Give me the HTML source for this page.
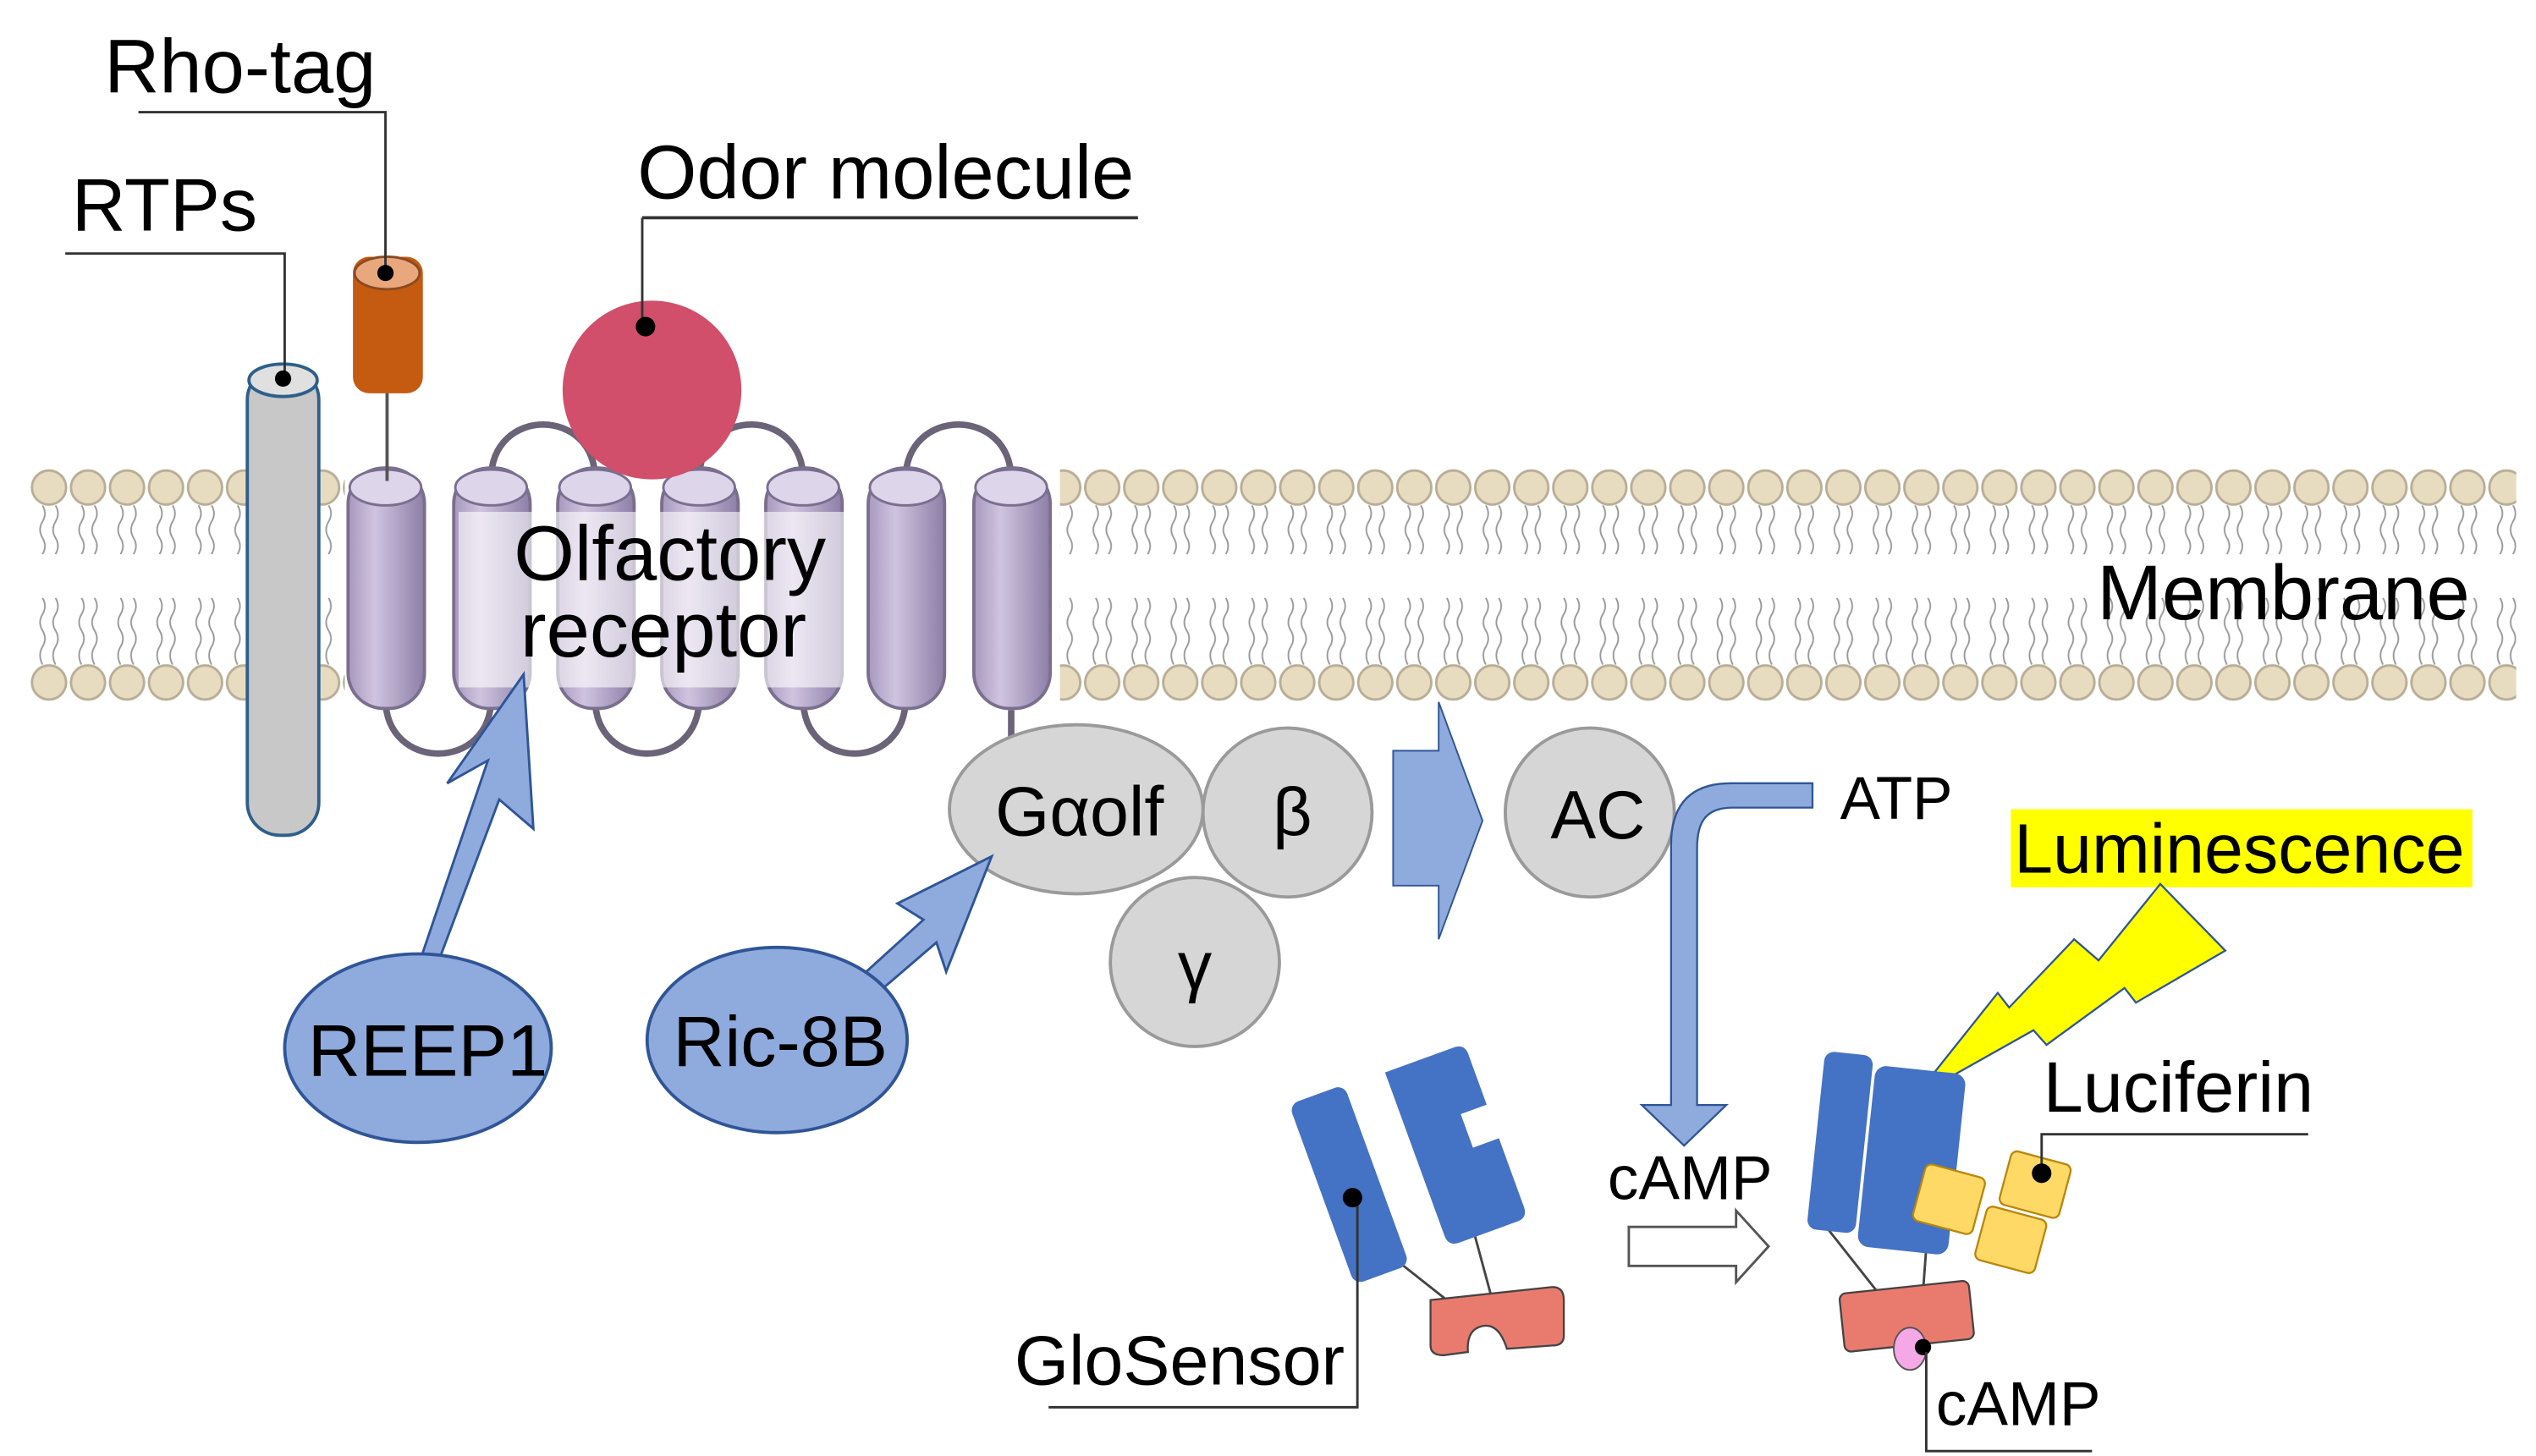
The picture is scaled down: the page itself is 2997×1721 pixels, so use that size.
<!DOCTYPE html>
<html><head><meta charset="utf-8"><style>
html,body{margin:0;padding:0;background:#fff}
svg{display:block}
text{font-family:"Liberation Sans",sans-serif;fill:#000}
</style></head><body>
<svg width="2997" height="1721" viewBox="0 0 1560 896" xmlns="http://www.w3.org/2000/svg">
<defs>
<pattern id="lip" x="18" y="288" width="24" height="144" patternUnits="userSpaceOnUse">
<circle cx="12" cy="12" r="10.5" fill="#e8dcc0" stroke="#b8ad96" stroke-width="1.5"/>
<circle cx="12" cy="132" r="10.5" fill="#e8dcc0" stroke="#b8ad96" stroke-width="1.5"/>
<path d="M8 23 q3 5 0 10 q-3 5 0 10 q3 5 0 10 M16 23 q3 5 0 10 q-3 5 0 10 q3 5 0 10" fill="none" stroke="#999" stroke-width="1"/>
<path d="M8 80 q3 5 0 10 q-3 5 0 10 q3 5 0 10 q-3 5 0 11 M16 80 q3 5 0 10 q-3 5 0 10 q3 5 0 10 q-3 5 0 11" fill="none" stroke="#999" stroke-width="1"/>
</pattern>
<linearGradient id="hel" x1="0" x2="1">
<stop offset="0" stop-color="#a898bd"/><stop offset="0.35" stop-color="#cfc4e0"/><stop offset="1" stop-color="#8d7ea6"/>
</linearGradient>
</defs>
<rect x="18" y="288" width="1530" height="144" fill="url(#lip)"/>
<rect x="212" y="286" width="440" height="152" fill="#fff"/>

<g fill="none" stroke="#6b6378" stroke-width="4">
<path d="M302 295 C302 250 366 250 366 295"/>
<path d="M430 295 C430 250 494 250 494 295"/>
<path d="M557 295 C557 250 622 250 622 295"/>
<path d="M237 430 C237 475 302 475 302 430"/>
<path d="M366 430 C366 475 430 475 430 430"/>
<path d="M494 430 C494 475 557 475 557 430"/>
<path d="M622 437 L622 470"/>
</g>
<g stroke="#7a6f8e" stroke-width="2">
<rect x="214" y="288" width="47" height="148" rx="22" fill="url(#hel)"/>
<rect x="279" y="288" width="47" height="148" rx="22" fill="url(#hel)"/>
<rect x="343" y="288" width="47" height="148" rx="22" fill="url(#hel)"/>
<rect x="407" y="288" width="47" height="148" rx="22" fill="url(#hel)"/>
<rect x="471" y="288" width="47" height="148" rx="22" fill="url(#hel)"/>
<rect x="534" y="288" width="47" height="148" rx="22" fill="url(#hel)"/>
<rect x="599" y="288" width="47" height="148" rx="22" fill="url(#hel)"/>
</g>
<g fill="#ddd5ea" stroke="#7a6f8e" stroke-width="1.5">
<ellipse cx="237" cy="300" rx="22" ry="11"/><ellipse cx="302" cy="300" rx="22" ry="11"/>
<ellipse cx="366" cy="300" rx="22" ry="11"/><ellipse cx="430" cy="300" rx="22" ry="11"/>
<ellipse cx="494" cy="300" rx="22" ry="11"/><ellipse cx="557" cy="300" rx="22" ry="11"/>
<ellipse cx="622" cy="300" rx="22" ry="11"/>
</g>
<rect x="282" y="315" width="238" height="108" fill="#fff" opacity="0.6"/>
<text x="412" y="357" font-size="48" text-anchor="middle">Olfactory</text>
<text x="408" y="404" font-size="48" text-anchor="middle">receptor</text>

<rect x="152" y="226" width="44" height="288" rx="20" fill="#c8c8c8" stroke="#2e5f8a" stroke-width="2"/>
<ellipse cx="174" cy="234" rx="21" ry="10" fill="#e0e0e0" stroke="#2e5f8a" stroke-width="2"/>
<line x1="238" y1="240" x2="238" y2="296" stroke="#555" stroke-width="2"/>
<rect x="217" y="158" width="43" height="84" rx="10" fill="#c55a11"/>
<ellipse cx="238" cy="168" rx="20" ry="10" fill="#e8a77c" stroke="#8a4a20" stroke-width="1.5"/>
<circle cx="401" cy="240" r="55" fill="#d14f6a"/>

<g stroke="#333" fill="none">
<path d="M40 156 H175 V233" stroke-width="1.5"/>
<path d="M85 69 H237 V168" stroke-width="1.5"/>
<path d="M395 134 H700" stroke-width="2"/><path d="M395 134 V200" stroke-width="1.5"/>
</g>
<circle cx="174" cy="233" r="5"/><circle cx="237" cy="168" r="5"/><circle cx="397" cy="201" r="6"/>
<text x="44" y="142" font-size="46">RTPs</text>
<text x="64" y="57" font-size="47">Rho-tag</text>
<text x="392" y="122" font-size="47">Odor molecule</text>
<text x="1290" y="381" font-size="48">Membrane</text>

<g fill="#d6d6d6" stroke="#9a9a9a" stroke-width="2">
<circle cx="735" cy="592" r="52"/>
<circle cx="792" cy="500" r="52"/>
<ellipse cx="662" cy="498" rx="78" ry="52"/>
<circle cx="978" cy="500" r="52"/>
</g>
<text x="664" y="514" font-size="43" text-anchor="middle">Gαolf</text>
<text x="795" y="514" font-size="42" text-anchor="middle">β</text>
<text x="735" y="609" font-size="42" text-anchor="middle">γ</text>
<text x="983" y="516" font-size="42" text-anchor="middle">AC</text>

<polygon points="857,462 885,462 885,432 912,505 885,578 885,545 857,545" fill="#8faadc" stroke="#2f5597" stroke-width="1"/>

<polygon points="258,592 300,468 275,482 322,415 328,510 307,492 268,596" fill="#8faadc" stroke="#2f5597" stroke-width="1.5"/>
<ellipse cx="257" cy="645" rx="82" ry="58" fill="#8faadc" stroke="#2f5597" stroke-width="2"/>
<text x="263" y="662" font-size="45" text-anchor="middle">REEP1</text>
<polygon points="524,606 568,566 552,556 610,527 582,598 576,580 534,616" fill="#8faadc" stroke="#2f5597" stroke-width="1.5"/>
<ellipse cx="478" cy="640" rx="80" ry="57" fill="#8faadc" stroke="#2f5597" stroke-width="2"/>
<text x="480" y="656" font-size="44" text-anchor="middle">Ric-8B</text>

<path d="M1115 482 H1065 C1040 482 1028 495 1028 520 V680 H1010 L1036 705 L1062 680 H1044 V522 C1044 505 1050 497 1066 497 H1115 Z" fill="#8faadc" stroke="#2f5597" stroke-width="1.2"/>
<text x="1132" y="504" font-size="37">ATP</text>

<rect x="1237" y="498" width="284" height="48" fill="#ffff00"/>
<text x="1239" y="537" font-size="43">Luminescence</text>
<polygon points="1329,544 1369,585 1314,617 1307,608 1259,643 1251,634 1178,675 1229,611 1236,620 1276,578 1291,591" fill="#ffff00" stroke="#2f5597" stroke-width="1.2"/>

<line x1="852" y1="770" x2="890" y2="800" stroke="#444" stroke-width="1.5"/>
<line x1="905" y1="752" x2="918" y2="800" stroke="#444" stroke-width="1.5"/>
<rect x="812" y="670" width="36" height="118" rx="6" fill="#4472c4" transform="rotate(-20 830 729)"/>
<g transform="rotate(-20 895 705)">
<path d="M870 648 H915 Q922 648 922 655 V688 H905 V710 H922 V755 Q922 762 915 762 H877 Q870 762 870 755 Z" fill="#4472c4"/>
</g>
<path d="M880 800 L955 792 Q962 792 962 800 L962 822 Q962 828 955 828 L927 830 Q922 814 912 816 Q902 818 903 832 L888 834 Q880 834 880 828 Z" fill="#e97b6e" stroke="#444" stroke-width="1.2"/>
<path d="M835 737 V866 H645" fill="none" stroke="#333" stroke-width="1.5"/>
<circle cx="832" cy="737" r="6"/>
<text x="624" y="852" font-size="43">GloSensor</text>

<text x="989" y="738" font-size="38">cAMP</text>
<polygon points="1002,755 1068,755 1068,745 1088,767 1068,789 1068,779 1002,779" fill="#fff" stroke="#555" stroke-width="1.5"/>

<line x1="1125" y1="757" x2="1155" y2="795" stroke="#444" stroke-width="1.5"/>
<line x1="1185" y1="768" x2="1183" y2="795" stroke="#444" stroke-width="1.5"/>
<rect x="1117" y="648" width="30" height="110" rx="6" fill="#4472c4" transform="rotate(6 1132 703)"/>
<rect x="1148" y="658" width="56" height="112" rx="7" fill="#4472c4" transform="rotate(6 1176 714)"/>
<rect x="1133" y="792" width="80" height="36" rx="4" fill="#e97b6e" stroke="#444" stroke-width="1.2" transform="rotate(-6 1173 810)"/>
<ellipse cx="1175" cy="830" rx="10" ry="13" fill="#f4a8e6" stroke="#555" stroke-width="1"/>
<circle cx="1183" cy="829" r="5"/>
<g fill="#ffd966" stroke="#b8860b" stroke-width="1.2">
<rect x="1180" y="720" width="38" height="36" rx="4" transform="rotate(15 1199 738)"/>
<rect x="1233" y="712" width="38" height="34" rx="4" transform="rotate(15 1252 729)"/>
<rect x="1218" y="746" width="38" height="34" rx="4" transform="rotate(15 1237 763)"/>
</g>
<path d="M1256 722 V698 H1420" fill="none" stroke="#333" stroke-width="1.5"/>
<circle cx="1256" cy="722" r="6"/>
<text x="1257" y="684" font-size="44">Luciferin</text>
<path d="M1185 832 V893 H1287" fill="none" stroke="#333" stroke-width="1.5"/>
<text x="1191" y="877" font-size="38">cAMP</text>
</svg>
</body></html>
